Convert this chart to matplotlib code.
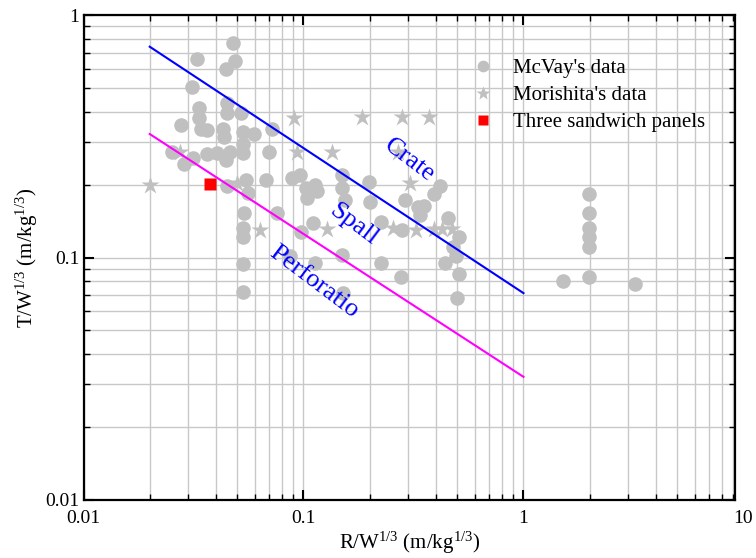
import matplotlib
matplotlib.use("Agg")
import matplotlib.pyplot as plt
from matplotlib.ticker import FixedLocator, LogLocator, NullFormatter, FixedFormatter
import matplotlib.transforms as mtransforms

plt.rcParams['font.family'] = ['Liberation Serif', 'DejaVu Serif']
plt.rcParams['mathtext.fontset'] = 'custom'
plt.rcParams['mathtext.rm'] = 'Liberation Serif'
plt.rcParams['mathtext.it'] = 'Liberation Serif:italic'

# McVay's data
mcvay_x = [0.0479, 0.0329, 0.0489, 0.0445, 0.0312, 0.0450, 0.0336, 0.0450, 0.0521, 0.0336,
           0.0278, 0.0343, 0.0365, 0.0431, 0.0532, 0.0596, 0.0720, 0.0436, 0.0532, 0.0253,
           0.0287, 0.0315, 0.0365, 0.0405, 0.0464, 0.0445, 0.0532, 0.0698, 0.0450, 0.0549,
           0.0560, 0.0676, 0.0887, 0.0964, 0.1026, 0.1128, 0.1151, 0.1037, 0.0537, 0.0532,
           0.0532, 0.0759, 0.0974, 0.1104, 0.0532, 0.0532, 0.0869, 0.1128, 0.1495, 0.1495,
           0.1543, 0.198, 0.200, 0.289, 0.331, 0.352, 0.338, 0.416, 0.391, 0.452,
           0.507, 0.476, 0.492, 0.438, 0.507, 0.497, 0.225, 0.280, 0.1495, 0.225,
           0.277, 0.151, 1.99, 1.99, 1.99, 1.99, 1.99, 1.99, 1.52, 3.22]
mcvay_y = [0.766, 0.659, 0.646, 0.599, 0.505, 0.434, 0.414, 0.395, 0.395, 0.376,
           0.352, 0.339, 0.336, 0.339, 0.330, 0.323, 0.339, 0.314, 0.294, 0.272,
           0.243, 0.257, 0.267, 0.270, 0.272, 0.252, 0.270, 0.272, 0.197, 0.2087,
           0.185, 0.2087, 0.2125, 0.219, 0.193, 0.199, 0.188, 0.176, 0.153, 0.132,
           0.121, 0.153, 0.127, 0.139, 0.0938, 0.0722, 0.101, 0.0948, 0.219, 0.193,
           0.173, 0.205, 0.170, 0.173, 0.162, 0.163, 0.150, 0.197, 0.183, 0.146,
           0.122, 0.110, 0.101, 0.0948, 0.0859, 0.0683, 0.140, 0.130, 0.102, 0.0948,
           0.0830, 0.0712, 0.183, 0.153, 0.132, 0.121, 0.111, 0.0830, 0.0801, 0.0781]

# Morishita's data
mori_x = [0.0201, 0.0275, 0.0499, 0.0906, 0.0934, 0.184, 0.280, 0.371, 0.135, 0.268,
          0.304, 0.0635, 0.128, 0.255, 0.324, 0.391, 0.425, 0.472]
mori_y = [0.199, 0.272, 0.203, 0.376, 0.272, 0.380, 0.380, 0.380, 0.272, 0.272,
          0.203, 0.130, 0.131, 0.132, 0.130, 0.131, 0.131, 0.131]

# Three sandwich panels
panel_x = [0.0377]
panel_y = [0.201]

# Boundary lines
crate_x = [0.02, 1.0]
crate_y = [0.740, 0.0713]
perf_x = [0.02, 1.0]
perf_y = [0.323, 0.0322]

fig = plt.figure(figsize=(7.56, 5.58), dpi=100)
ax = fig.add_axes([83.5/756, 58/558, (735-83.5)/756, (500-15)/558])
ax.set_xscale('log')
ax.set_yscale('log')
ax.set_xlim(0.01, 9.15)
ax.set_ylim(0.01, 1)

grid_c = '#c8c8c8'
ax.grid(True, which='both', color=grid_c, lw=1.0, zorder=0)
ax.set_axisbelow(True)

ax.plot(mcvay_x, mcvay_y, 'o', color='#c0c0c0', ms=10.5, mec='none', label="McVay's data", zorder=3)
ax.plot(mori_x, mori_y, '*', color='#c0c0c0', ms=13.5, mec='none', label="Morishita's data", zorder=3)
ax.plot(panel_x, panel_y, 's', color='#ff0000', ms=8.5, mec='none', label='Three sandwich panels', zorder=4)

ax.plot(crate_x, crate_y, color='#0000ff', lw=1.5, zorder=5)
ax.plot(perf_x, perf_y, color='#ff00ff', lw=1.5, zorder=5)

ax.text(0.304, 0.252, 'Crate', color='#0000ff', fontsize=19, rotation=-37,
        ha='center', va='center', rotation_mode='anchor', zorder=6)
ax.text(0.168, 0.137, 'Spall', color='#0000ff', fontsize=19, rotation=-37,
        ha='center', va='center', rotation_mode='anchor', zorder=6)
ax.text(0.111, 0.0790, 'Perforatio', color='#0000ff', fontsize=19, rotation=-37,
        ha='center', va='center', rotation_mode='anchor', zorder=6)

ax.xaxis.set_major_locator(FixedLocator([0.01, 0.1, 1]))
ax.xaxis.set_major_formatter(FixedFormatter(['0.01', '0.1', '1']))
ax.xaxis.set_minor_locator(LogLocator(base=10, subs=range(2, 10), numticks=20))
ax.xaxis.set_minor_formatter(NullFormatter())
ax.yaxis.set_major_locator(FixedLocator([0.01, 0.1, 1]))
ax.yaxis.set_major_formatter(FixedFormatter(['0.01', '0.1', '1']))
ax.yaxis.set_minor_locator(LogLocator(base=10, subs=range(2, 10), numticks=20))
ax.yaxis.set_minor_formatter(NullFormatter())

ax.tick_params(which='both', direction='in', top=True, right=True, labelsize=14, color='black')
ax.tick_params(which='major', length=7, width=1.5)
ax.tick_params(which='minor', length=4, width=1.0)
ax.tick_params(axis='x', pad=7)
ax.tick_params(axis='y', pad=3)
for s in ax.spines.values():
    s.set_linewidth(1.6)

trans = mtransforms.blended_transform_factory(ax.transData, ax.transAxes)
t10 = ax.text(10, 0, '10', fontsize=14, ha='center', va='top', clip_on=False)
t10.set_transform(trans + mtransforms.ScaledTranslation(0, -7/72, fig.dpi_scale_trans))

ax.set_xlabel(r'R/W$^{1/3}$ (m/kg$^{1/3}$)', fontsize=15, labelpad=2)
ax.set_ylabel(r'T/W$^{1/3}$ (m/kg$^{1/3}$)', fontsize=15, labelpad=4)

leg = ax.legend(loc='upper left', bbox_to_anchor=(0.597, 0.910), frameon=False,
                fontsize=15, handlelength=1.0, handletextpad=0.94, borderpad=0,
                borderaxespad=0, labelspacing=0.35, markerscale=0.8)

fig.savefig('out.png', dpi=100)
